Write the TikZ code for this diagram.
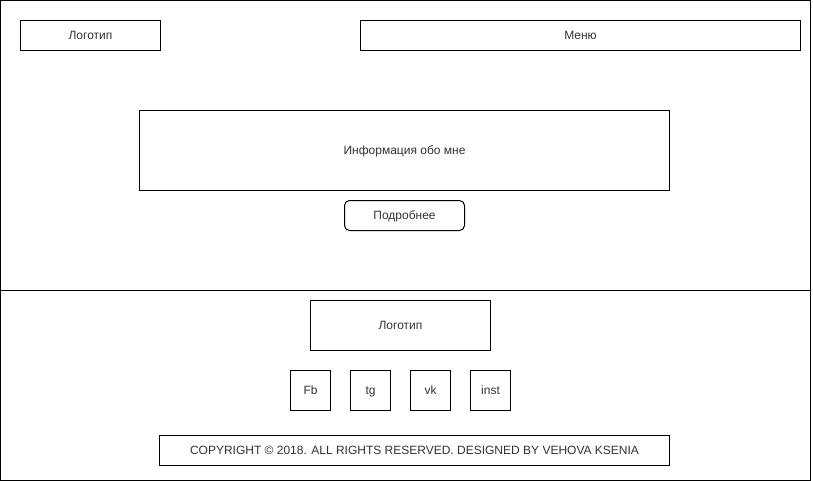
\documentclass[tikz,border=0pt]{standalone}
\usepackage{fontspec}
\setmainfont{Liberation Sans}
\definecolor{txt}{HTML}{333333}
\begin{document}
\begin{tikzpicture}[x=1pt,y=-1pt,
  box/.style={draw=black,line width=1pt,fill=white,inner sep=0pt,align=center,text=txt,text height=9pt,text depth=1pt,font=\fontsize{12}{14}\selectfont},
  frame/.style={draw=black,line width=1pt}]
\useasboundingbox (0,0) rectangle (813,481);
\draw[frame] (0.5,0.5) rectangle (810.5,290.5);
\draw[frame] (0.5,290.5) rectangle (810.5,480.5);
\node[box,minimum width=140pt,minimum height=30pt] (logo) at (90.5,35.5) {Логотип};
\node[box,minimum width=440pt,minimum height=30pt] (menu) at (580.5,35.5) {Меню};
\node[box,minimum width=530pt,minimum height=80pt] (info) at (404.5,150.5) {Информация обо мне};
\node[box,rounded corners=5pt,minimum width=120pt,minimum height=30pt] (more) at (404.5,215.5) {Подробнее};
\node[box,minimum width=180pt,minimum height=50pt] (flogo) at (400.5,325.5) {Логотип};
\node[box,minimum width=40pt,minimum height=40pt] (fb) at (310.5,390.5) {Fb};
\node[box,minimum width=40pt,minimum height=40pt] (tg) at (370.5,390.5) {tg};
\node[box,minimum width=40pt,minimum height=40pt] (vk) at (430.5,390.5) {vk};
\node[box,minimum width=40pt,minimum height=40pt] (inst) at (490.5,390.5) {inst};
\node[box,minimum width=510pt,minimum height=30pt] (copy) at (414.5,450.5) {COPYRIGHT © 2018. ALL RIGHTS RESERVED. DESIGNED BY VEHOVA KSENIA};
\end{tikzpicture}
\end{document}
